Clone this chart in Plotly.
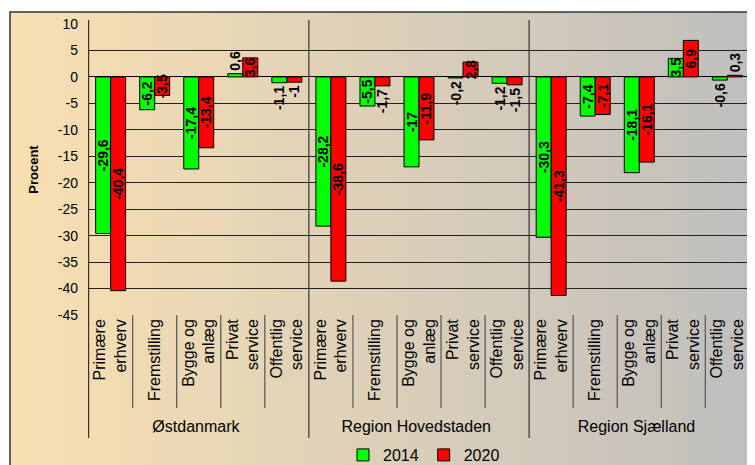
import base64
import plotly.graph_objects as go

# Data
regions = ["Østdanmark", "Region Hovedstaden", "Region Sjælland"]
sectors = ["Primære<br>erhverv", "Fremstilling", "Bygge og<br>anlæg", "Privat<br>service", "Offentlig<br>service"]
v2014 = [-29.6, -6.2, -17.4, 0.6, -1.1,
         -28.2, -5.5, -17.0, -0.2, -1.2,
         -30.3, -7.4, -18.1, 3.5, -0.6]
v2020 = [-40.4, -3.5, -13.4, 3.6, -1.0,
         -38.6, -1.7, -11.9, 2.8, -1.5,
         -41.3, -7.1, -16.1, 6.9, 0.3]
y_ticks = list(range(-45, 11, 5))

xcat = [[r for r in regions for _ in sectors], [s for _ in regions for s in sectors]]


def lbl(v):
    return f"{v:g}".replace(".", ",")


def pos(v):
    return "inside" if abs(v) >= 2.5 else "outside"


fig = go.Figure()
for name, vals, col in [("2014", v2014, "#00FF00"), ("2020", v2020, "#FF0000")]:
    fig.add_trace(go.Bar(
        x=xcat, y=vals, name=name,
        marker=dict(color=col, line=dict(color="black", width=1)),
        text=[lbl(v) for v in vals],
        textposition=[pos(v) for v in vals],
        insidetextanchor="middle",
        textangle=-90,
        constraintext="none",
        cliponaxis=False,
        textfont=dict(family="Arial", size=14, color="black", weight="bold"),
    ))

# gradient background (frame)
svg = ('<svg xmlns="http://www.w3.org/2000/svg" width="100" height="100" preserveAspectRatio="none">'
       '<defs><linearGradient id="g" x1="0" y1="0" x2="1" y2="0">'
       '<stop offset="0" stop-color="#F9E0B2"/><stop offset="1" stop-color="#BEBEBE"/>'
       '</linearGradient></defs><rect width="100" height="100" fill="url(#g)"/></svg>')
src = "data:image/svg+xml;base64," + base64.b64encode(svg.encode()).decode()

# page has an 8px body margin; layout is planned in page pixels
OFF = 8
W, H = 755 - OFF, 465 - OFF
L, R, T, B = 88 - OFF, 5, 24 - OFF, 465 - 315
pw, ph = W - L - R, H - T - B


def px(xp):
    return (xp - OFF - L) / pw


def py(yp):
    return (H - B - (yp - OFF)) / ph


fig.add_layout_image(dict(source=src, xref="paper", yref="paper",
                          x=px(10), y=py(12), sizex=px(770) - px(10), sizey=py(12) - py(475),
                          sizing="stretch", layer="below", xanchor="left", yanchor="top"))

shapes = [dict(type="rect", xref="paper", yref="paper", x0=px(10), x1=px(770), y0=py(475), y1=py(12),
               line=dict(color="#333333", width=1.5), fillcolor="rgba(0,0,0,0)", layer="below")]
n = len(regions) * len(sectors)
for k in range(n + 1):
    xb = k - 0.5
    if k % len(sectors) == 0:
        shapes.append(dict(type="line", xref="x", yref="paper", x0=xb, x1=xb, y0=py(438), y1=py(20),
                           line=dict(color="#333333", width=1.2)))
    else:
        shapes.append(dict(type="line", xref="x", yref="paper", x0=xb, x1=xb, y0=py(408), y1=0,
                           line=dict(color="#555555", width=1.2)))
fig.update_layout(shapes=shapes)

fig.update_layout(
    width=W, height=H,
    margin=dict(l=L, r=R, t=T, b=B, autoexpand=False),
    paper_bgcolor="white",
    plot_bgcolor="rgba(0,0,0,0)",
    barmode="group", bargap=0.32, bargroupgap=0,
    uniformtext=dict(minsize=14, mode="show"),
    font=dict(family="Arial", color="black"),
    showlegend=True,
    legend=dict(orientation="h", x=px(424), xanchor="center", y=py(455), yanchor="middle",
                font=dict(size=16), bgcolor="rgba(0,0,0,0)", itemwidth=30, tracegroupgap=0),
    yaxis=dict(range=[-45, 10], tickvals=y_ticks, ticktext=[str(t) for t in y_ticks],
               showgrid=True, gridcolor="#222222", gridwidth=1, automargin=False,
               zeroline=True, zerolinecolor="black", zerolinewidth=1.2,
               showline=False, ticks="", tickfont=dict(size=14), ticklabelstandoff=9,
               title=dict(text="<b>Procent</b>", font=dict(size=13), standoff=16)),
    xaxis=dict(type="multicategory", tickangle=-90, tickfont=dict(size=16), automargin=False,
               showdividers=False, ticks="", showgrid=False, showline=False),
)

fig.write_html("out.html")
